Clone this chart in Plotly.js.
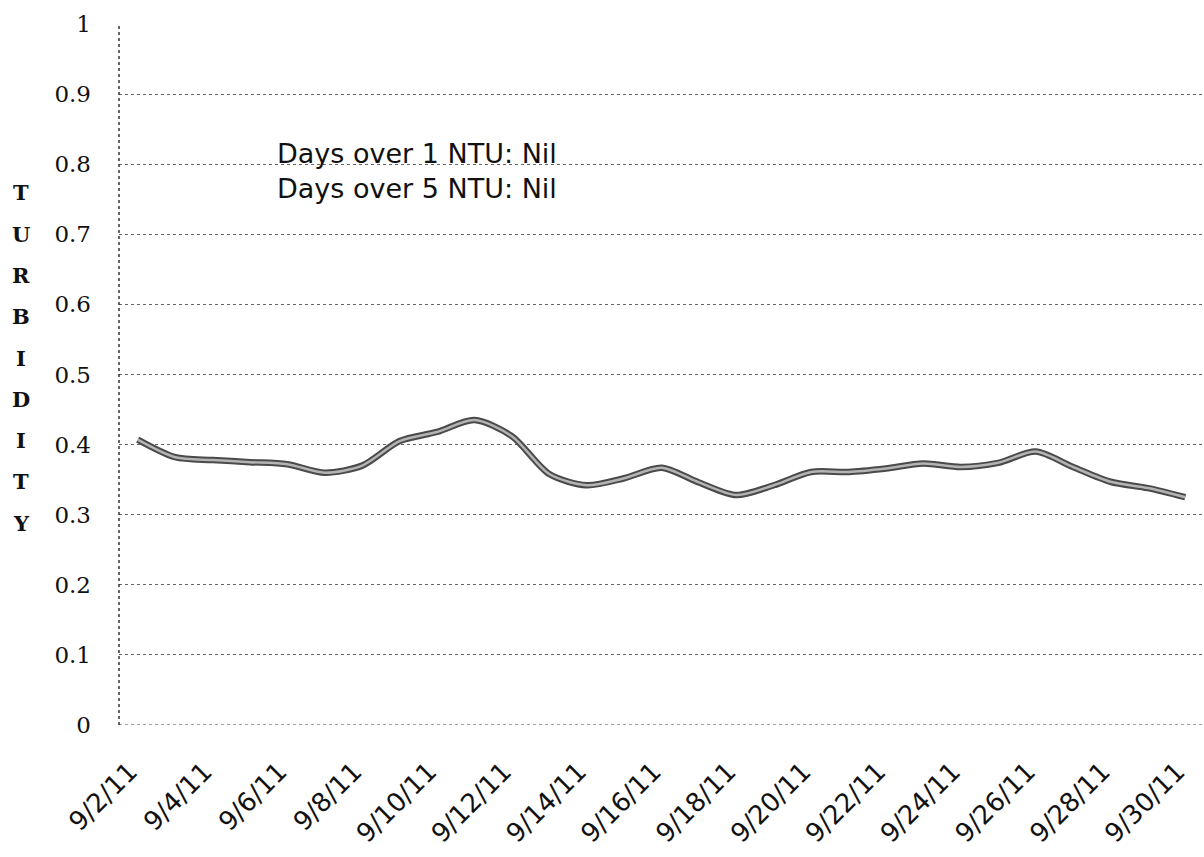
<!DOCTYPE html>
<html>
<head>
<meta charset="utf-8">
<script src="https://cdn.plot.ly/plotly-3.0.1.min.js"></script>
<style>
  html, body { margin: 0; padding: 0; background: #fff; }
  #chart { width: 1204px; height: 857px; }
</style>
</head>
<body>
<div id="chart"></div>
<script>
// ---- data ----
const dates = ["9/2/11","9/3/11","9/4/11","9/5/11","9/6/11","9/7/11","9/8/11","9/9/11","9/10/11","9/11/11",
               "9/12/11","9/13/11","9/14/11","9/15/11","9/16/11","9/17/11","9/18/11","9/19/11","9/20/11","9/21/11",
               "9/22/11","9/23/11","9/24/11","9/25/11","9/26/11","9/27/11","9/28/11","9/29/11","9/30/11"];
const turbidity = [0.407, 0.382, 0.378, 0.375, 0.372, 0.360, 0.370, 0.405, 0.418, 0.435,
                   0.412, 0.358, 0.342, 0.352, 0.367, 0.346, 0.328, 0.342, 0.361, 0.361,
                   0.366, 0.373, 0.368, 0.374, 0.390, 0.368, 0.347, 0.338, 0.325];
const yTicks = [0, 0.1, 0.2, 0.3, 0.4, 0.5, 0.6, 0.7, 0.8, 0.9, 1];
const yTickText = ["0", "0.1", "0.2", "0.3", "0.4", "0.5", "0.6", "0.7", "0.8", "0.9", "1"];
const yTitle = "TURBIDITY";
const noteLines = ["Days over 1 NTU: Nil", "Days over 5 NTU: Nil"];

// ---- layout helpers (pixel -> paper) ----
const L = 119, R = 0, T = 24, B = 132, W = 1204, H = 857;
const pw = W - L - R, ph = H - T - B;
const px = x => (x - L) / pw;
const py = y => (H - B - y) / ph;

const traces = [
  { x: dates, y: turbidity, type: 'scatter', mode: 'lines',
    line: { color: '#4a4a4a', width: 6.5, shape: 'spline', smoothing: 0.8 }, hoverinfo: 'skip', showlegend: false },
  { x: dates, y: turbidity, type: 'scatter', mode: 'lines',
    line: { color: '#b4b4b4', width: 2.5, shape: 'spline', smoothing: 0.8 }, showlegend: false }
];

const annotations = yTitle.split('').map((ch, i) => ({
  text: ch, xref: 'paper', yref: 'paper', x: px(21), y: py(193 + i * 41.25),
  xanchor: 'center', yanchor: 'middle', showarrow: false,
  font: { family: 'DejaVu Serif', size: 21, color: '#111', weight: 'bold' }
}));
annotations.push({
  text: noteLines.join('<br>'), xref: 'paper', yref: 'paper', x: px(275), y: py(171),
  xanchor: 'left', yanchor: 'middle', align: 'left', showarrow: false,
  font: { family: 'DejaVu Sans', size: 27, color: '#111' }
});

const layout = {
  width: W, height: H,
  margin: { l: L, r: R, t: T, b: B, pad: 0 },
  paper_bgcolor: '#fff', plot_bgcolor: '#fff',
  showlegend: false,
  xaxis: {
    type: 'category', range: [-0.5, dates.length - 0.5],
    tickmode: 'linear', tick0: 0, dtick: 2,
    tickangle: -45, showgrid: false, zeroline: false, showline: false,
    ticks: '', ticklabelstandoff: 25, ticklabelshift: -8,
    tickfont: { family: 'DejaVu Sans', size: 26, color: '#111' }
  },
  yaxis: {
    range: [0, 1], tickvals: yTicks, ticktext: yTickText,
    showgrid: true, gridcolor: '#666', griddash: 'dot', gridwidth: 1,
    zeroline: false, showline: false, ticks: '', ticklabelstandoff: 27,
    tickfont: { family: 'DejaVu Serif', size: 23, color: '#111' }
  },
  shapes: [
    { type: 'line', xref: 'paper', yref: 'paper', x0: 0, x1: 0, y0: 0, y1: 1,
      line: { color: '#333', width: 1.5, dash: 'dot' } },
    { type: 'line', xref: 'paper', yref: 'y', x0: 0, x1: 1, y0: 0, y1: 0,
      line: { color: '#444', width: 1.2, dash: 'dot' } }
  ],
  annotations: annotations
};

Plotly.newPlot('chart', traces, layout, { staticPlot: true, displayModeBar: false });
</script>
</body>
</html>
